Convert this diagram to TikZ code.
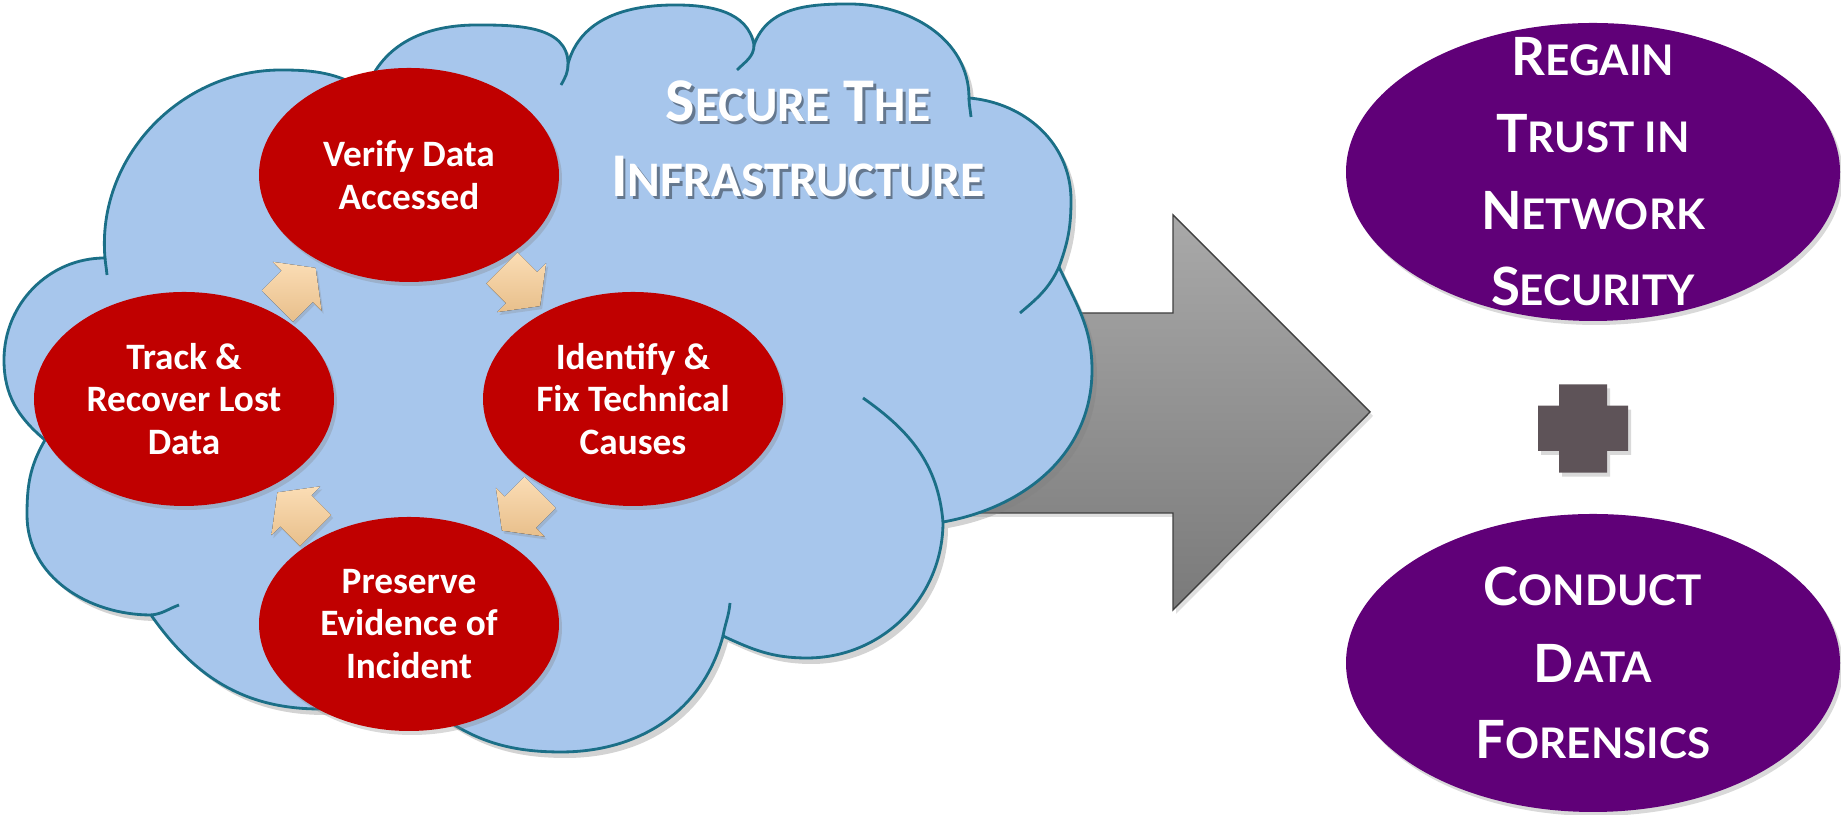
\documentclass[tikz,border=0pt]{standalone}
\usepackage{fontspec}
\setmainfont{Carlito}
\newfontfamily\gillfont{Lato}
\usetikzlibrary{shapes.geometric,calc,shadows}
\definecolor{bulutMavi}{HTML}{A7C6EC}
\definecolor{bulutKenar}{HTML}{1B6F87}
\definecolor{kirmizi}{HTML}{C00000}
\definecolor{seftaliAcik}{HTML}{FBDDB5}
\definecolor{seftaliKoyu}{HTML}{E8BF8B}
\definecolor{griAcik}{HTML}{A9A9A9}
\definecolor{griKoyu}{HTML}{7A7A7A}
\definecolor{griKenar}{HTML}{404040}
\definecolor{mor}{HTML}{600078}
\definecolor{artiGri}{HTML}{5E5358}
\definecolor{yaziGolge}{HTML}{64778E}
\makeatletter
% sahte kucuk buyuk harf
\newcommand{\kucuk}[1]{{\fontsize{\fpeval{0.8*\f@size}}{\f@baselineskip}\selectfont #1}}
\makeatother
\newcommand{\golgeli}[1]{\makebox[0pt][l]{\kern0.7pt\raisebox{-0.9pt}{\textcolor{yaziGolge}{#1}}}#1}

\begin{document}
\begin{tikzpicture}[
  surec/.style={ellipse, fill=kirmizi, text=white, minimum width=3cm, minimum height=2.14cm,
    inner sep=0pt, align=center, font=\bfseries\fontsize{10.6}{12}\selectfont,
    drop shadow={opacity=.3, shadow xshift=.03cm, shadow yshift=-.04cm}},
  hedef/.style={ellipse, fill=mor, minimum width=4.94cm, minimum height=2.98cm, inner sep=0pt,
    drop shadow={opacity=.3, shadow xshift=.03cm, shadow yshift=-.04cm}},
  hedefyazi/.style={text=white, align=center, inner sep=0pt,
    font=\gillfont\bfseries\fontsize{15}{21.8}\selectfont},
  dongu/.style={top color=seftaliAcik, bottom color=seftaliKoyu,
    drop shadow={opacity=.25, shadow xshift=.02cm, shadow yshift=-.03cm}},
  kivrim/.style={bulutKenar, line width=0.8pt},
  baslik/.style={text=white, align=center, font=\bfseries\fontsize{17.7}{21.3}\selectfont}
]
\useasboundingbox (0,0) rectangle (18.41,8.15);
% buyuk gri ok
\draw[draw=griKenar, line width=0.4pt, top color=griAcik, bottom color=griKoyu,
  drop shadow={opacity=.25, shadow xshift=.03cm, shadow yshift=-.04cm}]
  (9.0,5.02) -- (11.73,5.02) -- (11.73,6.00) -- (13.70,4.03) -- (11.73,2.05) -- (11.73,3.02) -- (9.0,3.02) -- cycle;
% bulut
\draw[kivrim, fill=bulutMavi, drop shadow={opacity=.35, shadow xshift=.05cm, shadow yshift=-.06cm}]
  (1.05,5.57) to[out=95,in=180] (2.81,7.45) to[out=0,in=150] (3.66,7.25)
  to[out=70,in=180] (4.77,7.90) to[out=0,in=90] (5.68,7.51)
  to[out=75,in=180] (6.75,8.10) to[out=0,in=100] (7.54,7.70)
  to[out=70,in=180] (8.49,8.11) to[out=0,in=90] (9.69,7.17)
  to[out=-5,in=90] (10.71,6.15) to[out=-90,in=70] (10.59,5.48)
  to[out=-65,in=90] (10.92,4.45) to[out=-90,in=10] (9.43,2.93)
  to[out=-90,in=0] (8.07,1.57) to[out=180,in=-25] (7.23,1.79)
  to[out=-105,in=0] (5.61,0.63) to[out=180,in=-40] (4.20,1.15)
  to[out=-140,in=0] (3.20,1.06) to[out=180,in=-55] (1.51,2.00)
  to[out=180,in=-90] (0.27,3.00) to[out=90,in=-120] (0.45,3.75)
  to[out=140,in=-90] (0.04,4.55) to[out=90,in=180] (1.05,5.57) -- cycle;
% bulutun ic kivrimlari
\draw[kivrim] (1.05,5.57) to[out=-85,in=95] (1.07,5.40);
\draw[kivrim] (5.68,7.51) to[out=-90,in=60] (5.61,7.30);
\draw[kivrim] (7.54,7.70) to[out=-90,in=45] (7.37,7.45);
\draw[kivrim] (9.69,7.17) to[out=-90,in=95] (9.71,6.98);
\draw[kivrim] (10.59,5.48) to[out=-115,in=40] (10.20,5.02);
\draw[kivrim] (9.43,2.93) to[out=95,in=-35] (8.63,4.17);
\draw[kivrim] (7.23,1.79) to[out=80,in=-95] (7.30,2.12);
\draw[kivrim] (1.51,2.00) to[out=5,in=200] (1.79,2.10);
\node[baslik] (baslik) at (7.98,6.75) {\golgeli{S\kucuk{ECURE} T\kucuk{HE}}\\\golgeli{I\kucuk{NFRASTRUCTURE}}};
% dongu adimlari
\node[surec] (verify) at (4.09,6.40) {Verify Data\\Accessed};
\node[surec] (identify) at (6.33,4.16) {Identify \&\\Fix Technical\\Causes};
\node[surec] (preserve) at (4.09,1.91) {Preserve\\Evidence of\\Incident};
\node[surec] (track) at (1.84,4.16) {Track \&\\Recover Lost\\Data};
\foreach \a/\b/\r in {track/verify/45, verify/identify/-45, identify/preserve/-135, preserve/track/135}{
  \begin{scope}[shift={($(\a)!0.5!(\b)$)}, rotate=\r]
    \fill[dongu] (-0.27,0.22) -- (-0.27,-0.22) -- (0.01,-0.22) -- (0.01,-0.345) -- (0.27,0) -- (0.01,0.345) -- (0.01,0.22) -- cycle;
  \end{scope}
}
% sag taraf
\node[hedef, label={[hedefyazi]center:R\kucuk{EGAIN}\\T\kucuk{RUST IN}\\N\kucuk{ETWORK}\\S\kucuk{ECURITY}}] (guven) at (15.93,6.43) {};
\node[hedef, label={[hedefyazi]center:C\kucuk{ONDUCT}\\D\kucuk{ATA}\\F\kucuk{ORENSICS}}] (adli) at (15.93,1.52) {};
\fill[artiGri, drop shadow={opacity=.3, shadow xshift=.03cm, shadow yshift=-.04cm}]
  (15.59,4.307) -- (16.07,4.307) -- (16.07,4.093) -- (16.28,4.093) -- (16.28,3.64) -- (16.07,3.64)
  -- (16.07,3.423) -- (15.59,3.423) -- (15.59,3.64) -- (15.38,3.64) -- (15.38,4.093) -- (15.59,4.093) -- cycle;
\end{tikzpicture}
\end{document}
